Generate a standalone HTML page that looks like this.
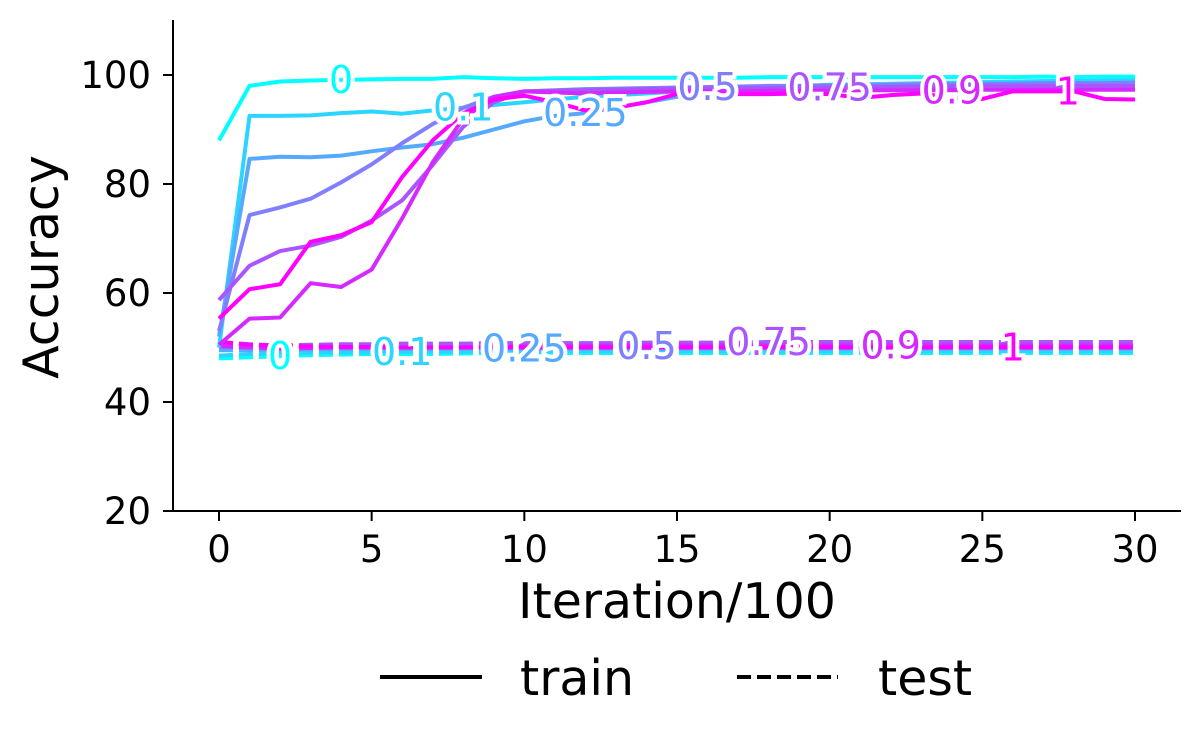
<!DOCTYPE html>
<html><head><meta charset="utf-8"><style>
html,body{margin:0;padding:0;background:#fff}
svg{display:block;font-family:"DejaVu Sans","Liberation Sans",sans-serif}
</style></head><body>
<svg id="chart" width="1201" height="744" viewBox="0 0 1201 744"></svg>
<script>
const seriesNames = ["0","0.1","0.25","0.5","0.75","0.9","1"];
const xTicks = [0,5,10,15,20,25,30];
const yTicks = [20,40,60,80,100];
const trainS0 = [88,98,98.8,99,99.1,99.2,99.3,99.3,99.6,99.4,99.3,99.4,99.4,99.5,99.5,99.5,99.5,99.5,99.6,99.6,99.6,99.6,99.6,99.6,99.6,99.6,99.6,99.7,99.6,99.7,99.7];
const trainS1 = [50,92.5,92.5,92.6,93,93.3,92.9,93.5,94,94.5,95,95.5,96,96.3,96.6,97,97.3,97.5,97.8,98,98.2,98.3,98.4,98.5,98.6,98.7,98.8,98.9,98.9,99,99];
const trainS2 = [52,84.6,85,84.9,85.2,86,86.7,87.3,88.5,90,91.5,92.5,93,94,95,96,96.5,96.8,97,97.1,97.2,97.3,97.4,97.5,97.5,97.6,97.7,97.7,97.8,97.8,97.8];
const trainS3 = [53,74.3,75.7,77.3,80.3,83.6,87.5,91,94,96,97,97.2,97.4,97.5,97.6,97.7,97.8,97.9,98,98,98.1,98.1,98.2,98.3,98.3,98.4,98.4,98.5,98.5,98.5,98.6];
const trainS4 = [58.7,65,67.7,68.7,70.3,73.3,77,83.5,90.5,95,97,97.1,97.2,97.3,97.4,97.5,97.5,97.6,97.6,97.7,97.7,97.8,97.8,97.9,97.9,98,98,98,98,98,98];
const trainS5 = [50.5,55.3,55.5,61.8,61.1,64.3,73.7,84,92,96,97,96.8,96.6,96.8,96.9,97,97,97,97.1,97.1,97.1,97.2,97.2,97.2,97.2,97.3,97.3,97.3,97.3,97.3,97.3];
const trainS6 = [55.3,60.7,61.6,69.4,70.6,73,81.3,88,93,95.5,96.2,95,93.5,94,95,96.5,96.5,96.5,96.5,96.6,96.5,95.8,96.3,96.6,95.8,95.6,97,97,97,95.6,95.5];
const testS0 = [48,48.2,48.4,48.6,48.7,48.8,48.8,48.8,48.9,49,49,49,49,49,49,49,49,49,49,49,49,49,49,49,49,49,49,49,49,49,49];
const testS1 = [48.5,48.8,49,49,49.1,49.1,49.2,49.2,49.2,49.3,49.3,49.3,49.3,49.3,49.3,49.3,49.3,49.3,49.3,49.3,49.3,49.3,49.3,49.3,49.3,49.3,49.3,49.3,49.3,49.3,49.3];
const testS2 = [49.5,49.5,49.6,49.6,49.7,49.7,49.7,49.7,49.8,49.8,49.8,49.8,49.8,49.8,49.8,49.8,49.8,49.8,49.8,49.8,49.8,49.8,49.8,49.8,49.8,49.8,49.8,49.8,49.8,49.8,49.8];
const testS3 = [50.5,50.3,50.2,50.2,50.2,50.3,50.3,50.3,50.3,50.3,50.3,50.3,50.3,50.3,50.3,50.3,50.3,50.3,50.3,50.3,50.3,50.3,50.3,50.3,50.3,50.3,50.3,50.3,50.3,50.3,50.3];
const testS4 = [51,50.6,50.4,50.5,50.6,50.6,50.7,50.7,50.7,50.8,50.8,50.8,50.8,50.8,50.9,50.9,50.9,50.9,51,51,51,51,51,51,51,51,51,51,51,51,51];
const testS5 = [50.2,50,49.8,49.9,50,50,50,50,50,50.2,50.2,50.3,50.3,50.3,50.4,50.4,50.4,50.4,50.4,50.4,50.4,50.4,50.4,50.4,50.4,50.4,50.4,50.4,50.4,50.4,50.4];
const testS6 = [51,50.5,50.3,50.2,50.1,50.1,50,50,50,50,50,50,50,50,50,50,50,50,50,50,50,50,50,50,50,50,50,50,50,50,50];
const trainLabelX = [4,8,12,16,20,24,27.8];
const testLabelX = [2,6,10,14,18,22,26];

const train = [trainS0,trainS1,trainS2,trainS3,trainS4,trainS5,trainS6];
const test = [testS0,testS1,testS2,testS3,testS4,testS5,testS6];
const svg = document.getElementById('chart');
const NS = 'http://www.w3.org/2000/svg';
const X = v => 219 + v * (1135 - 219) / 30;
const Y = v => 511 - (v - 20) * (511 - 75) / 80;
function mk(tag, attrs, parent) {
  const e = document.createElementNS(NS, tag);
  for (const k in attrs) e.setAttribute(k, attrs[k]);
  (parent || svg).appendChild(e);
  return e;
}
function color(i) {
  const t = i / 6;
  return 'rgb(' + Math.round(255 * t) + ',' + Math.round(255 * (1 - t)) + ',255)';
}
const axes = mk('g', {});


const ys = mk('line', {x1:173, y1:20, x2:173, y2:512, stroke:'#000', 'stroke-width':2}, axes);


const xs = mk('line', {x1:172, y1:511, x2:1181, y2:511, stroke:'#000', 'stroke-width':2}, axes);


xTicks.forEach(t => {
  mk('line', {x1:X(t), y1:511, x2:X(t), y2:521, stroke:'#000', 'stroke-width':2}, axes);
  const tx = mk('text', {x:X(t), y:562, 'font-size':37, 'text-anchor':'middle'}, axes);
  tx.textContent = t;
  
  
});
yTicks.forEach(t => {
  mk('line', {x1:163, y1:Y(t), x2:173, y2:Y(t), stroke:'#000', 'stroke-width':2}, axes);
  const tx = mk('text', {x:151, y:Y(t) + 13, 'font-size':37, 'text-anchor':'end'}, axes);
  tx.textContent = t;
  
  
});
const xt = mk('text', {x:677, y:618, 'font-size':49, 'text-anchor':'middle'});
xt.textContent = 'Iteration/100';


const yt = mk('text', {x:0, y:0, 'font-size':49, 'text-anchor':'middle', transform:'translate(58,267) rotate(-90)'});
yt.textContent = 'Accuracy';



function drawSeries(arr, i, dashed, kind) {
  const pts = arr.map((v, k) => X(k) + ',' + Y(v)).join(' ');
  const a = {points:pts, fill:'none', stroke:color(i), 'stroke-width':4, 'stroke-linejoin':'round'};
  if (dashed) a['stroke-dasharray'] = '14,6';
  const p = mk('polyline', a);
  
  
}
function label(arr, i, lx, kind) {
  const k = Math.floor(lx), f = lx - k;
  const v = arr[k] + (arr[Math.min(k + 1, 30)] - arr[k]) * f;
  const t = mk('text', {x:X(lx), y:Y(v) + 13, 'font-size':38, 'text-anchor':'middle', fill:color(i),
    stroke:'#fff', 'stroke-width':8, 'paint-order':'stroke'});
  t.textContent = seriesNames[i];
  
  
}
for (let i = 0; i < 7; i++) drawSeries(test[i], i, true, 'test');
for (let i = 0; i < 7; i++) drawSeries(train[i], i, false, 'train');
for (let i = 0; i < 7; i++) label(train[i], i, trainLabelX[i], 'train');
for (let i = 0; i < 7; i++) label(test[i], i, testLabelX[i], 'test');

const lg = mk('g', {});


mk('line', {x1:380, y1:677, x2:482, y2:677, stroke:'#000', 'stroke-width':4}, lg);
const l1 = mk('text', {x:520, y:695, 'font-size':49}, lg);
l1.textContent = 'train';


mk('line', {x1:737, y1:677, x2:838, y2:677, stroke:'#000', 'stroke-width':4, 'stroke-dasharray':'14,6'}, lg);
const l2 = mk('text', {x:878, y:695, 'font-size':49}, lg);
l2.textContent = 'test';


</script>
</body></html>
